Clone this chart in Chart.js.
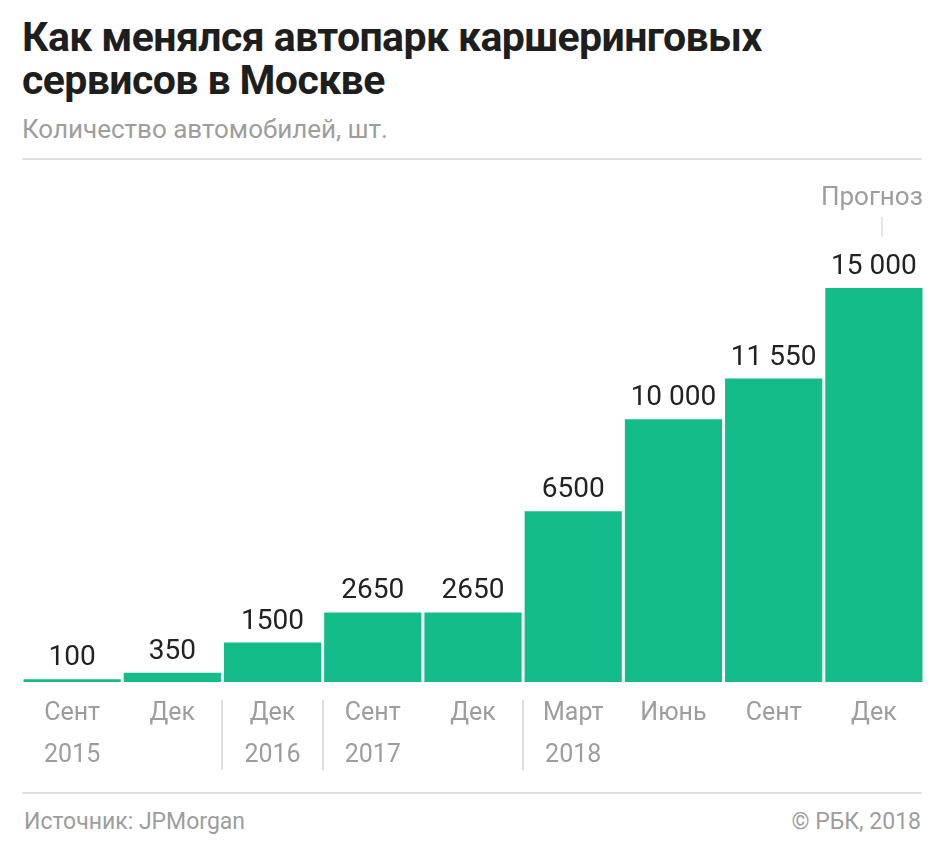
<!DOCTYPE html>
<html lang="ru">
<head>
<meta charset="utf-8">
<script src="https://cdn.jsdelivr.net/npm/chart.js@4"></script>
<style>
  html, body { margin: 0; padding: 0; background: #fff; }
  body { width: 945px; height: 856px; position: relative; overflow: hidden; font-family: Roboto, "Noto Sans", sans-serif; }
  .title { position: absolute; left: 22px; top: 16px; font-size: 41px; line-height: 43px; font-weight: 700; color: #1e1e1e; letter-spacing: -0.6px; }
  .subtitle { position: absolute; left: 22px; top: 114px; font-size: 26px; line-height: 30px; color: #9d9d9d; }
  .rule { position: absolute; left: 22px; width: 900px; height: 2px; background: #e0e0e0; }
  .foot { position: absolute; top: 808px; font-size: 23px; line-height: 28px; color: #9d9d9d; }
  .foot.left { left: 24px; }
  .foot.right { right: 24px; }
  .chart-box { position: absolute; left: 0; top: 160px; width: 945px; height: 630px; }
</style>
</head>
<body>
<div class="title">Как менялся автопарк каршеринговых<br>сервисов в Москве</div>
<div class="subtitle">Количество автомобилей, шт.</div>
<div class="rule" style="top:158px"></div>
<div class="chart-box"><canvas id="chart" width="945" height="630"></canvas></div>
<div class="rule" style="top:792px"></div>
<div class="foot left">Источник: JPMorgan</div>
<div class="foot right">© РБК, 2018</div>

<script>
const months = ['Сент', 'Дек', 'Дек', 'Сент', 'Дек', 'Март', 'Июнь', 'Сент', 'Дек'];
const years = ['2015', '', '2016', '2017', '', '2018', '', '', ''];
const cars = [100, 350, 1500, 2650, 2650, 6500, 10000, 11550, 15000];
const yearStarts = [2, 3, 5];   // a separator goes before these bars
const forecastIndex = 8;
const forecastLabel = 'Прогноз';

const BAR = '#13bc89';
const DARK = '#222222';
const GRAY = '#9d9d9d';
const LINE = '#dedede';

function fmtNum(v) {
  const s = String(v);
  return v >= 10000 ? s.replace(/\B(?=(\d{3})+(?!\d))/g, ' ') : s;
}

const labelsPlugin = {
  id: 'rbcLabels',
  afterDatasetsDraw(chart) {
    const { ctx, chartArea } = chart;
    const bars = chart.getDatasetMeta(0).data;
    const xs = chart.scales.x;
    ctx.save();

    // values above bars
    ctx.font = '400 28px Roboto, "Noto Sans", sans-serif';
    ctx.fillStyle = DARK;
    ctx.textAlign = 'center';
    ctx.textBaseline = 'alphabetic';
    bars.forEach((bar, i) => {
      ctx.fillText(fmtNum(cars[i]), bar.x, bar.y - 14);
    });

    // forecast note
    const fb = bars[forecastIndex];
    ctx.font = '400 26px Roboto, "Noto Sans", sans-serif';
    ctx.fillStyle = GRAY;
    ctx.fillText(forecastLabel, fb.x - 2, fb.y - 83);
    ctx.strokeStyle = LINE;
    ctx.lineWidth = 1.5;
    ctx.beginPath();
    ctx.moveTo(fb.x + 8, fb.y - 71);
    ctx.lineTo(fb.x + 8, fb.y - 51);
    ctx.stroke();

    // year separators under the axis
    ctx.strokeStyle = LINE;
    ctx.lineWidth = 2;
    yearStarts.forEach((i) => {
      const x = Math.round((xs.getPixelForValue(i - 1) + xs.getPixelForValue(i)) / 2);
      ctx.beginPath();
      ctx.moveTo(x, chartArea.bottom + 18);
      ctx.lineTo(x, chartArea.bottom + 88);
      ctx.stroke();
    });
    ctx.restore();
  },
};

new Chart(document.getElementById('chart'), {
  type: 'bar',
  data: {
    labels: months.map((m, i) => [m, years[i]]),
    datasets: [{
      data: cars,
      backgroundColor: BAR,
      borderWidth: 0,
      categoryPercentage: 1,
      barPercentage: 0.97,
    }],
  },
  options: {
    responsive: false,
    animation: false,
    layout: { padding: { top: 128, left: 22, right: 21, bottom: 10 } },
    plugins: { legend: { display: false }, tooltip: { enabled: false } },
    scales: {
      x: {
        grid: { display: false },
        border: { display: false },
        ticks: {
          color: GRAY,
          padding: 3,
          maxRotation: 0,
          autoSkip: false,
          font: { family: 'Roboto, "Noto Sans", sans-serif', size: 25, lineHeight: 1.68 },
        },
      },
      y: { display: false, min: 0, max: 15000 },
    },
  },
  plugins: [labelsPlugin],
});
</script>
</body>
</html>
